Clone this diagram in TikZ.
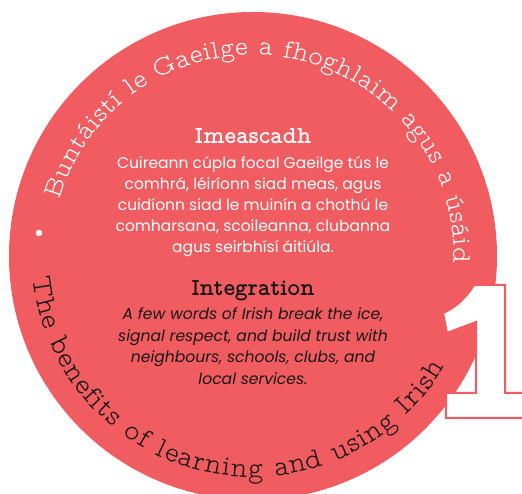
\documentclass[tikz,border=0pt]{standalone}
\usepackage{fontspec}
\setmainfont{Poppins}
\newfontfamily\arcfont{lmmonoproplt10-regular.otf}
\newfontfamily\headfont{lmmonoproplt10-bold.otf}
\usetikzlibrary{decorations.text}
\definecolor{coral}{RGB}{240,92,96}
\definecolor{ink}{RGB}{26,22,22}
\begin{document}
\begin{tikzpicture}[x=1pt,y=1pt,
  bodytxt/.style={font=\fontsize{15.5}{18}\selectfont, text=white, anchor=base, inner sep=0pt},
  ittxt/.style={font=\fontsize{15.6}{18}\selectfont\itshape, text=ink, anchor=base, inner sep=0pt},
  headtxt/.style={font=\headfont\fontsize{24.5}{26}\selectfont, anchor=base, inner sep=0pt},
  numeral/.style={draw=coral, line width=2pt, fill=white, line join=miter}]
\useasboundingbox (0,0) rectangle (522,494);
\clip (0,0) rectangle (522,494);
\coordinate (c) at (253,238);
\fill[coral] (c) circle[radius=244];
% big numeral 1
\path[numeral] (474,209) .. controls (466,196) and (455,186) .. (443,181) -- (447,161) -- (476,172) -- (476,101) -- (446,101) -- (446,76) -- (540,76) -- (540,101) -- (505,101) -- (505,209) -- cycle;
% bullet
\fill[white] (39,261) circle[radius=3.3];
% arc texts
\path[decorate, decoration={text along path,
  text={|\arcfont\fontsize{27.3}{27.3}\selectfont\color{white}|Buntáistí le Gaeilge a fhoghlaim agus a úsáid},
  text align={fit to path}}]
  ([shift={(163.7:201)}]c) arc[start angle=163.7, end angle=-2, radius=201];
\path[decorate, decoration={text along path,
  text={|\arcfont\fontsize{29}{29}\selectfont\color{ink}|The benefits of learning and using Irish},
  text align={fit to path}}]
  ([shift={(185.7:221)}]c) arc[start angle=185.7, end angle=330, radius=221];
% Irish block
\node[headtxt, text=white] (h1) at (253,350) {Imeascadh};
\node[bodytxt] (b1) at (253,325.7) {Cuireann cúpla focal Gaeilge tús le};
\node[bodytxt] (b2) at (253,304.5) {comhrá, léiríonn siad meas, agus};
\node[bodytxt] (b3) at (253,283.3) {cuidíonn siad le muinín a chothú le};
\node[bodytxt] (b4) at (253,262.1) {comharsana, scoileanna, clubanna};
\node[bodytxt] (b5) at (253,241) {agus seirbhísí áitiúla.};
% English block
\node[headtxt, text=ink] (h2) at (253,198) {Integration};
\node[ittxt] (e1) at (253,174) {A few words of Irish break the ice,};
\node[ittxt] (e2) at (253,152.5) {signal respect, and build trust with};
\node[ittxt] (e3) at (253,131) {neighbours, schools, clubs, and};
\node[ittxt] (e4) at (253,109.5) {local services.};
\end{tikzpicture}
\end{document}
